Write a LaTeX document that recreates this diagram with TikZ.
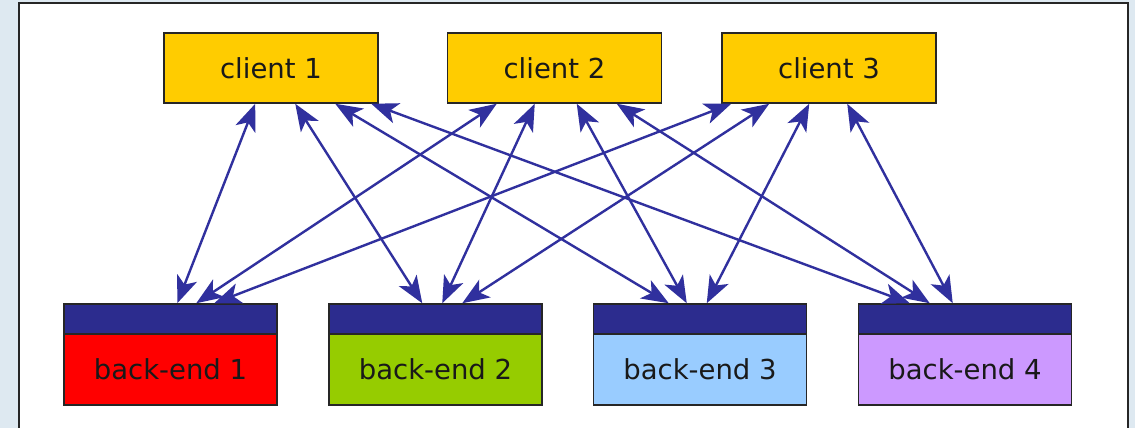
\documentclass[tikz,border=0pt]{standalone}
\usepackage{fontspec}
\setmainfont{DejaVu Sans}
\usetikzlibrary{arrows.meta}
\definecolor{clientc}{RGB}{255,204,0}
\definecolor{bandc}{RGB}{44,44,142}
\definecolor{linkc}{RGB}{48,48,158}
\definecolor{be1c}{RGB}{255,0,0}
\definecolor{be2c}{RGB}{150,204,0}
\definecolor{be3c}{RGB}{153,204,255}
\definecolor{be4c}{RGB}{204,153,255}
\definecolor{bgc}{RGB}{222,233,241}
\tikzset{
  clientbox/.style={draw=black!85, line width=1.5pt, fill=clientc, minimum width=214pt, minimum height=70pt, inner sep=0pt, font=\fontsize{27.5}{32}\selectfont, text=black!90},
  bandbox/.style={draw=black!85, line width=1.5pt, fill=bandc, minimum width=213pt, minimum height=30pt, inner sep=0pt},
  bodybox/.style={draw=black!85, line width=1.5pt, minimum width=213pt, minimum height=71pt, inner sep=0pt, font=\fontsize{27.5}{32}\selectfont, text=black!90},
  tip/.tip={Stealth[length=27pt,width=21pt,inset=7pt]},
  link/.style={draw=linkc, line width=2.4pt, tip-tip}
}
\begin{document}
\begin{tikzpicture}[x=1pt,y=-1pt]
\useasboundingbox (0,0) rectangle (1135,428);
\fill[bgc] (0,0) rectangle (1135,428);
\filldraw[fill=white, draw=black!85, line width=1.8pt] (19,3) rectangle (1128,440);
% clients
\node[clientbox] (c1) at (271,68) {client 1};
\node[clientbox] (c2) at (554.5,68) {client 2};
\node[clientbox] (c3) at (829,68) {client 3};
% back-ends
\node[bodybox, fill=be1c] (b1) at (170.5,369.5) {back-end 1};
\node[bandbox] (t1) at (170.5,319) {};
\node[bodybox, fill=be2c] (b2) at (435.5,369.5) {back-end 2};
\node[bandbox] (t2) at (435.5,319) {};
\node[bodybox, fill=be3c] (b3) at (700,369.5) {back-end 3};
\node[bandbox] (t3) at (700,319) {};
\node[bodybox, fill=be4c] (b4) at (965,369.5) {back-end 4};
\node[bandbox] (t4) at (965,319) {};
% links
\draw[link] ([xshift=92pt]c1.south west) -- ([xshift=114pt]t1.north west);
\draw[link] ([xshift=132pt]c1.south west) -- ([xshift=94pt]t2.north west);
\draw[link] ([xshift=172pt]c1.south west) -- ([xshift=76pt]t3.north west);
\draw[link] ([xshift=208pt]c1.south west) -- ([xshift=52pt]t4.north west);
\draw[link] ([xshift=50pt]c2.south west) -- ([xshift=133pt]t1.north west);
\draw[link] ([xshift=88pt]c2.south west) -- ([xshift=114pt]t2.north west);
\draw[link] ([xshift=130pt]c2.south west) -- ([xshift=94pt]t3.north west);
\draw[link] ([xshift=170pt]c2.south west) -- ([xshift=72pt]t4.north west);
\draw[link] ([xshift=10pt]c3.south west) -- ([xshift=151pt]t1.north west);
\draw[link] ([xshift=48pt]c3.south west) -- ([xshift=134pt]t2.north west);
\draw[link] ([xshift=88pt]c3.south west) -- ([xshift=114pt]t3.north west);
\draw[link] ([xshift=126pt]c3.south west) -- ([xshift=95pt]t4.north west);
\end{tikzpicture}
\end{document}
